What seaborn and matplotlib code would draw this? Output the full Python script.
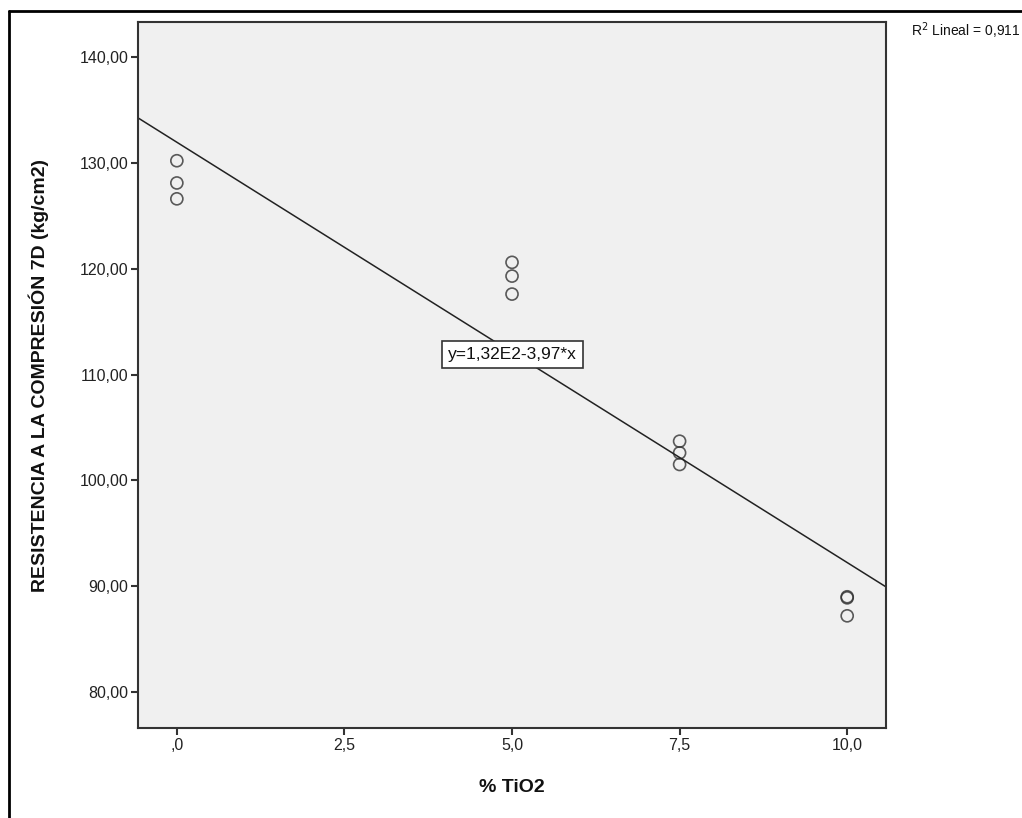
import numpy as np
import pandas as pd
import seaborn as sns
import matplotlib.pyplot as plt
from matplotlib.lines import Line2D

# data
tio2 = [0, 0, 0, 5, 5, 5, 7.5, 7.5, 7.5, 10, 10, 10]
resistencia = [130.2, 128.1, 126.6, 120.6, 119.3, 117.6, 103.7, 102.6, 101.5, 89.0, 88.9, 87.2]
y_ticks = [80, 90, 100, 110, 120, 130, 140]
y_labels = ['80,00', '90,00', '100,00', '110,00', '120,00', '130,00', '140,00']
x_ticks = [0, 2.5, 5, 7.5, 10]
x_labels = [',0', '2,5', '5,0', '7,5', '10,0']

df = pd.DataFrame({'TiO2': tio2, 'Res': resistencia})

sns.set_style('ticks')
plt.rcParams['font.family'] = ['Liberation Sans', 'DejaVu Sans']

fig = plt.figure(figsize=(10.22, 8.18), dpi=100)
ax = fig.add_axes([0.135, 0.110, 0.732, 0.863])
ax.set_facecolor('#f0f0f0')
# limits first so the fit line spans the whole axes
ax.set_xlim(-0.58, 10.58)
ax.set_ylim(76.6, 143.3)

sns.regplot(data=df, x='TiO2', y='Res', ax=ax, ci=None, truncate=False,
            scatter_kws=dict(s=75, facecolors='none', edgecolors='#333333', linewidths=1.2),
            line_kws=dict(color='#222222', linewidth=1.1))

ax.set_xlim(-0.58, 10.58)
ax.set_ylim(76.6, 143.3)
ax.set_xticks(x_ticks)
ax.set_xticklabels(x_labels)
ax.set_yticks(y_ticks)
ax.set_yticklabels(y_labels)
ax.tick_params(direction='out', length=5, width=1.5, color='#333333', labelcolor='#222222',
               labelsize=11.5, pad=2)
for s in ax.spines.values():
    s.set_color('#333333')
    s.set_linewidth(1.5)

ax.set_xlabel('% TiO2', fontsize=14, fontweight='bold', labelpad=19, color='#111111')
ax.set_ylabel('RESISTENCIA A LA COMPRESIÓN 7D (kg/cm2)', fontsize=14, fontweight='bold',
              labelpad=22, color='#111111')

ax.text(5.0, 111.9, 'y=1,32E2-3,97*x', fontsize=12.5, ha='center', va='center', color='#111111',
        bbox=dict(boxstyle='square,pad=0.35', facecolor='white', edgecolor='#333333', linewidth=1.2))

fig.text(0.8915, 0.963, r'R$^2$ Lineal = 0,911', fontsize=10, ha='left', va='center', color='#111111')

# outer frame of the original picture
fig.add_artist(Line2D([0.009, 0.009], [0, 0.986], transform=fig.transFigure, color='black', linewidth=2))
fig.add_artist(Line2D([0.009, 1.0], [0.986, 0.986], transform=fig.transFigure, color='black', linewidth=2))

plt.savefig('out.png', dpi=100, facecolor='white')
